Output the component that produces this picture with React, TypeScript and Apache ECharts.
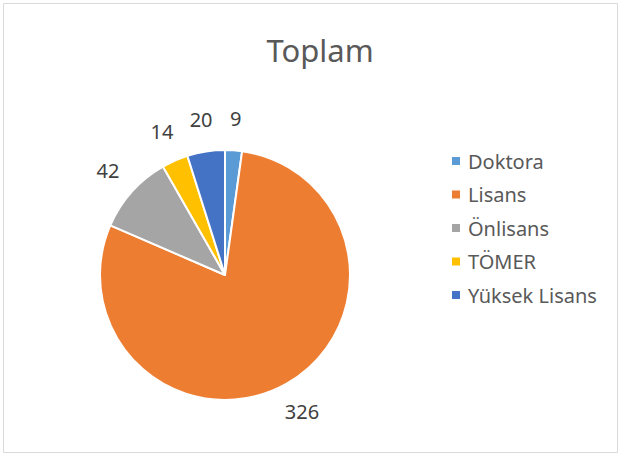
import React, { useEffect, useRef } from "react";
import * as echarts from "echarts";

const title = "Toplam";
const categories = ["Doktora", "Lisans", "Önlisans", "TÖMER", "Yüksek Lisans"];
const values = [9, 326, 42, 14, 20];
const colors = ["#5B9BD5", "#ED7D31", "#A5A5A5", "#FFC000", "#4472C4"];

export default function App() {
  const ref = useRef<HTMLDivElement>(null);
  useEffect(() => {
    document.body.style.margin = "0";
    const chart = echarts.init(ref.current!, null, { renderer: "svg" });
    const data = categories.map((name, i) => ({
      name,
      value: values[i],
      itemStyle: { color: colors[i] },
    }));
    chart.setOption({
      animation: false,
      backgroundColor: "#ffffff",
      textStyle: { fontFamily: "Noto Sans" },
      title: {
        text: title,
        left: 315,
        textAlign: "center",
        top: 29,
        textStyle: { fontSize: 31, fontWeight: "normal", color: "#595959", fontFamily: "Noto Sans" },
      },
      legend: {
        orient: "vertical",
        left: 445,
        top: 146,
        icon: "rect",
        itemWidth: 10,
        itemHeight: 10,
        itemGap: 13.5,
        data: categories,
        selectedMode: false,
        textStyle: { fontSize: 20, lineHeight: 20, color: "#595959", fontFamily: "Noto Sans", padding: [0, 0, 0, 2] },
      },
      graphic: [
        {
          type: "rect",
          shape: { x: 3.5, y: 3.5, width: 614, height: 449 },
          style: { fill: "none", stroke: "#D9D9D9", lineWidth: 1 },
          silent: true,
        },
      ],
      series: [
        {
          type: "pie",
          center: [225, 275],
          radius: [0, 125],
          startAngle: 90,
          clockwise: true,
          data,
          label: { show: false },
          labelLine: { show: false },
          itemStyle: { borderColor: "#ffffff", borderWidth: 2 },
          emphasis: { disabled: true },
          silent: true,
        },
        {
          type: "pie",
          center: [225, 275],
          radius: [144, 164],
          startAngle: 90,
          clockwise: true,
          data: categories.map((name, i) => ({ name, value: values[i] })),
          itemStyle: { color: "rgba(0,0,0,0)", borderWidth: 0 },
          label: {
            show: true,
            position: "inside",
            formatter: "{c}",
            fontSize: 20,
            color: "#404040",
            fontFamily: "Noto Sans",
          },
          labelLine: { show: false },
          emphasis: { disabled: true },
          silent: true,
        },
      ],
    });
    return () => chart.dispose();
  }, []);
  return <div ref={ref} style={{ width: 622, height: 457 }} />;
}
